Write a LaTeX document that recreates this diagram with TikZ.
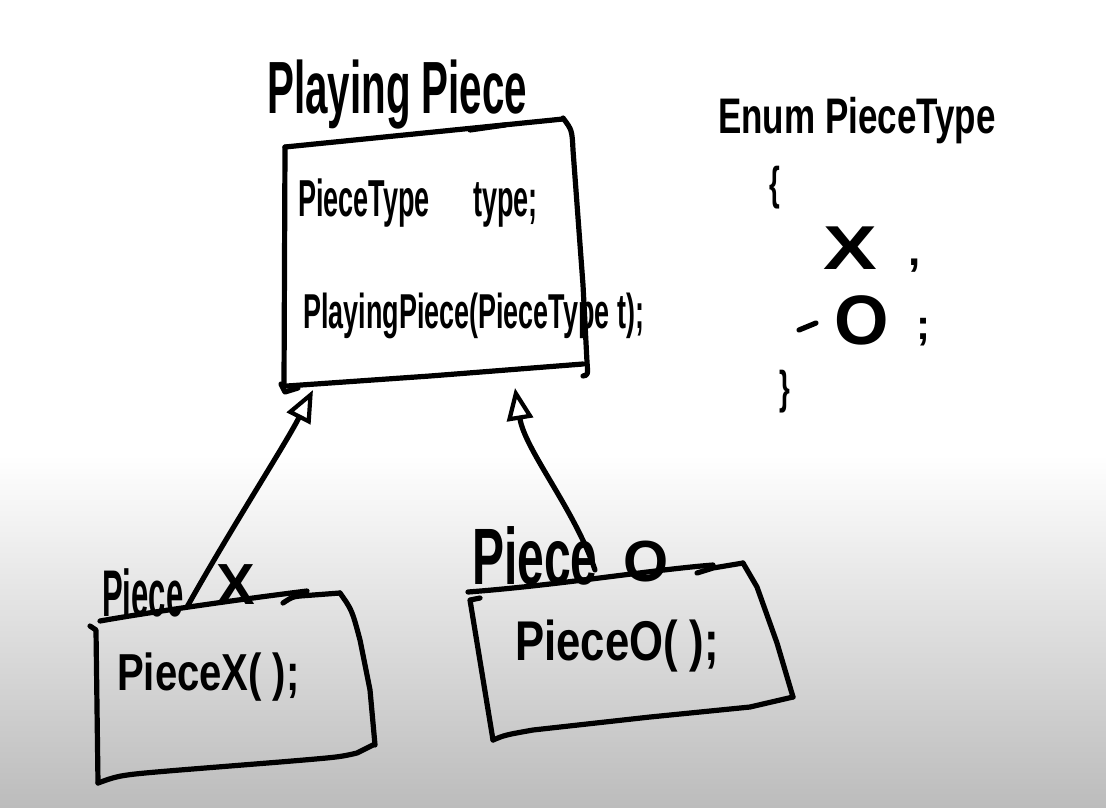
\documentclass[tikz,border=0pt]{standalone}
\usepackage{fontspec}
\usepackage{graphicx}
\setmainfont{Liberation Sans}
\usetikzlibrary{arrows.meta}
\definecolor{bottomgray}{RGB}{188,188,188}
\newcommand\sx[2][0.6]{\scalebox{#1}[1]{#2}}
\newcommand\fs[1]{\fontsize{#1}{#1}\selectfont\bfseries}
\tikzset{
  ink/.style={line width=5.2pt, line cap=round, line join=round, black},
  txt/.style={inner sep=0pt, anchor=base west},
  ctxt/.style={inner sep=0pt, anchor=center},
  inherit/.style={ink, -{Triangle[open, length=32pt, width=26pt, line width=4.2pt]}}
}
\begin{document}
\begin{tikzpicture}[x=1pt, y=-1pt]
\useasboundingbox (0,0) rectangle (1106,807);
\fill[white] (0,0) rectangle (1106,807);
\shade[top color=white, bottom color=bottomgray] (0,455) rectangle (1106,807);

% ---- PlayingPiece class
\node[txt, font=\fs{74}] (title) at (267,113) {\sx[0.545]{Playing Piece}};
\draw[ink] (285,147) -- (563,119);
\draw[ink] (470,130) -- (505,125);
\draw[ink] (563,118) .. controls (572,130) .. (573,150) -- (583,285) -- (587,362) .. controls (588,375) .. (583,376);
\draw[ink] (285,147) -- (284,385);
\draw[ink] (281,384) -- (285,392) -- (298,388);
\draw[ink] (287,386) -- (430,376) -- (583,364);
\node[txt, font=\fs{52}] (attr) at (298,216) {\sx[0.52]{PieceType\hspace{1.6em}type;}};
\node[txt, font=\fs{49}] (ctor) at (303,328) {\sx[0.55]{PlayingPiece(PieceType t);}};
\coordinate (pa1) at (313,390);
\coordinate (pa2) at (515,388);

% ---- enum
\node[txt, font=\fs{50}] (enum) at (718,133) {\sx[0.7]{Enum PieceType}};
\node[ctxt, font=\fs{46}] (lb) at (775,188) {\sx{\{}};
\node[ctxt, font=\fs{62}] (ex) at (850,248) {\scalebox{1.3}[1]{X}};
\node[ctxt, font=\fs{44}] (c1) at (915,266) {,};
\draw[ink] (799,330) -- (816,323);
\node[ctxt, font=\fs{70}] (oh) at (862,320) {O};
\node[ctxt, font=\fs{42}] (semi) at (923,332) {;};
\node[ctxt, font=\fs{46}] (rb) at (785,392) {\sx{\}}};

% ---- PieceX class
\node[txt, font=\fs{66}] (pxl) at (102,616) {\sx[0.47]{Piece}\hspace{33pt}\raisebox{12pt}{\fs{58}X}};
\draw[ink] (100,621) .. controls (150,612) and (250,598) .. (307,591);
\draw[ink] (283,603) .. controls (292,597) .. (300,596) -- (340,593);
\draw[ink] (90,626) -- (96,630) -- (98,783);
\draw[ink] (98,783) .. controls (120,775) .. (180,770) -- (280,762) .. controls (340,757) .. (357,753) -- (373,745);
\draw[ink] (340,593) .. controls (352,610) .. (360,640) -- (370,690) -- (375,745);
\node[txt, font=\fs{52}] (pxm) at (117,690) {\sx[0.77]{PieceX( );}};
\coordinate (xs) at (187,607);

% ---- PieceO class
\node[txt, font=\fs{80}] (pol) at (472,584) {\sx{Piece}\hspace{26pt}\raisebox{3pt}{\fs{58}O}};
\draw[ink] (468,592) .. controls (560,585) and (650,570) .. (713,565);
\draw[ink] (697,573) -- (713,568) -- (743,563);
\draw[ink] (480,598) -- (470,600) -- (493,740);
\draw[ink] (493,740) .. controls (505,735) .. (533,730) -- (650,717) -- (750,707) -- (793,697);
\draw[ink] (743,563) -- (757,587) -- (777,643) -- (793,697);
\node[txt, font=\fs{56}] (pom) at (515,660) {\sx[0.78]{PieceO( );}};
\coordinate (os) at (595,570);

% ---- inheritance connectors
\draw[inherit] (xs) .. controls (230,530) and (285,445) .. (pa1);
\draw[inherit] (os) .. controls (575,510) and (525,450) .. (pa2);
\end{tikzpicture}
\end{document}
